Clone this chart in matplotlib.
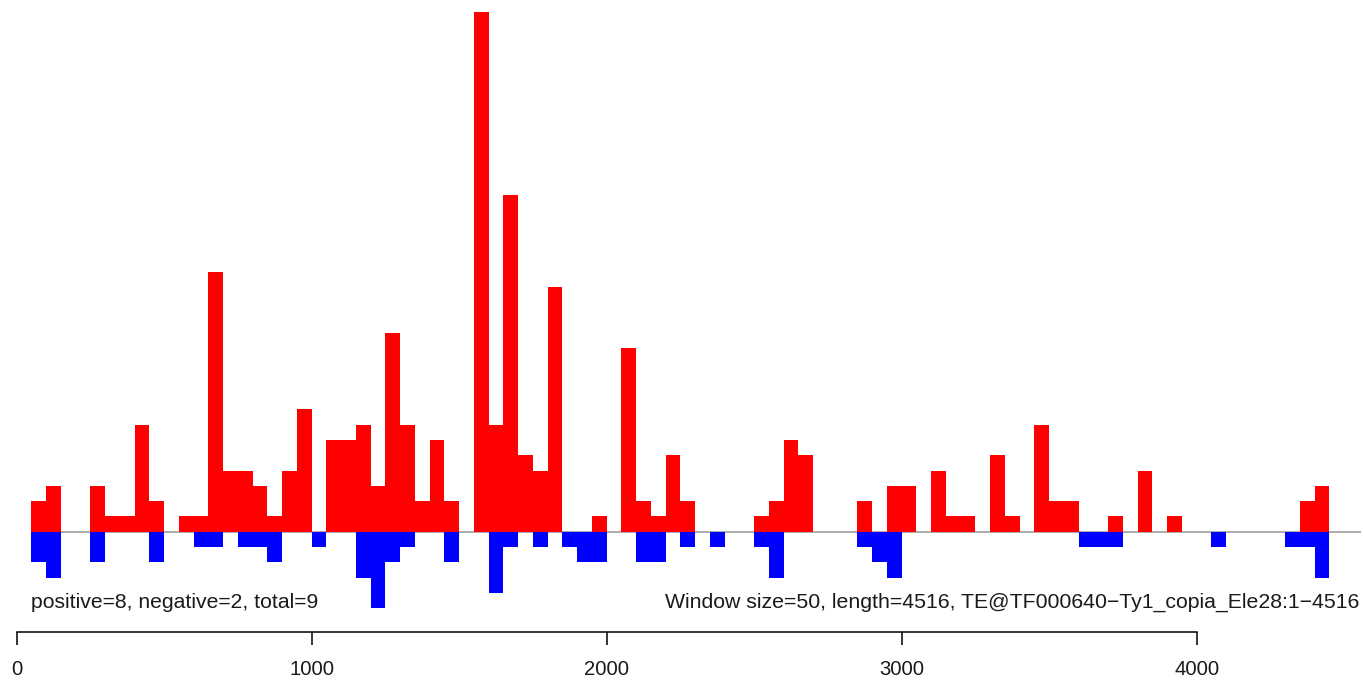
import matplotlib
matplotlib.use("Agg")
import matplotlib.pyplot as plt
import numpy as np

# window counts (window size 50, window k covers [50k, 50k+50])
window_size = 50
seq_length = 4516
positive = [2, 3, 0, 0, 3, 1, 1, 7, 2, 0,
            1, 1, 17, 4, 4, 3, 1, 4, 8, 0,
            6, 6, 7, 3, 13, 7, 2, 6, 2, 0,
            34, 7, 22, 5, 4, 16, 0, 0, 1, 0,
            12, 2, 1, 5, 2, 0, 0, 0, 0, 1,
            2, 6, 5, 0, 0, 0, 2, 0, 3, 3,
            0, 4, 1, 1, 0, 5, 1, 0, 7, 2,
            2, 0, 0, 1, 0, 4, 0, 1, 0, 0,
            0, 0, 0, 0, 0, 0, 2, 3]
negative = [2, 3, 0, 0, 2, 0, 0, 0, 2, 0,
            0, 1, 1, 0, 1, 1, 2, 0, 0, 1,
            0, 0, 3, 5, 2, 1, 0, 0, 2, 0,
            0, 4, 1, 0, 1, 0, 1, 2, 2, 0,
            0, 2, 2, 0, 1, 0, 1, 0, 0, 1,
            3, 0, 0, 0, 0, 0, 1, 2, 3, 0,
            0, 0, 0, 0, 0, 0, 0, 0, 0, 0,
            0, 1, 1, 1, 0, 0, 0, 0, 0, 0,
            1, 0, 0, 0, 0, 1, 1, 3]
xticks = [0, 1000, 2000, 3000, 4000]
left_label = "positive=8, negative=2, total=9"
right_label = "Window size=50, length=4516, TE@TF000640\u2212Ty1_copia_Ele28:1\u22124516"

plt.rcParams['font.family'] = ['Liberation Sans', 'DejaVu Sans']

W, H = 1363, 683
fig = plt.figure(figsize=(W / 100, H / 100), dpi=100)

# pixel mapping: x_px = 16.7 + 0.295*bp ; y_px = 531.7 - 15.3*count
base_px, unit_px = 531.7, 15.3
axis_px = 631.7
ax = fig.add_axes([0, (H - axis_px) / H, 1, axis_px / H])
ax.set_xlim(-16.7 / 0.295, (W - 16.7) / 0.295)
ax.set_ylim((base_px - axis_px) / unit_px, base_px / unit_px)

starts = np.arange(1, len(positive) + 1) * window_size
ax.hlines(0, window_size, 4556, color='#a6a6a6', lw=1.3, zorder=1)
ax.bar(starts, positive, width=window_size, align='edge', color='#ff0000', lw=0, zorder=2)
ax.bar(starts, -np.array(negative), width=window_size, align='edge', color='#0000ff', lw=0, zorder=2)

ytxt = (base_px - 602.5) / unit_px
ax.text(window_size, ytxt, left_label, ha='left', va='center', fontsize=15.2, color='#1a1a1a')
ax.text(4553, ytxt, right_label, ha='right', va='center', fontsize=15.3, color='#1a1a1a')

for s in ['top', 'right', 'left']:
    ax.spines[s].set_visible(False)
ax.spines['bottom'].set_bounds(0, 4000)
ax.spines['bottom'].set_linewidth(1.1)
ax.set_yticks([])
ax.set_xticks(xticks)
ax.set_xticklabels([str(t) for t in xticks])
ax.tick_params(axis='x', direction='out', length=9.5, width=1.1, pad=11, labelsize=14.6,
               labelcolor='#1a1a1a')

fig.savefig("out.png", dpi=100)
